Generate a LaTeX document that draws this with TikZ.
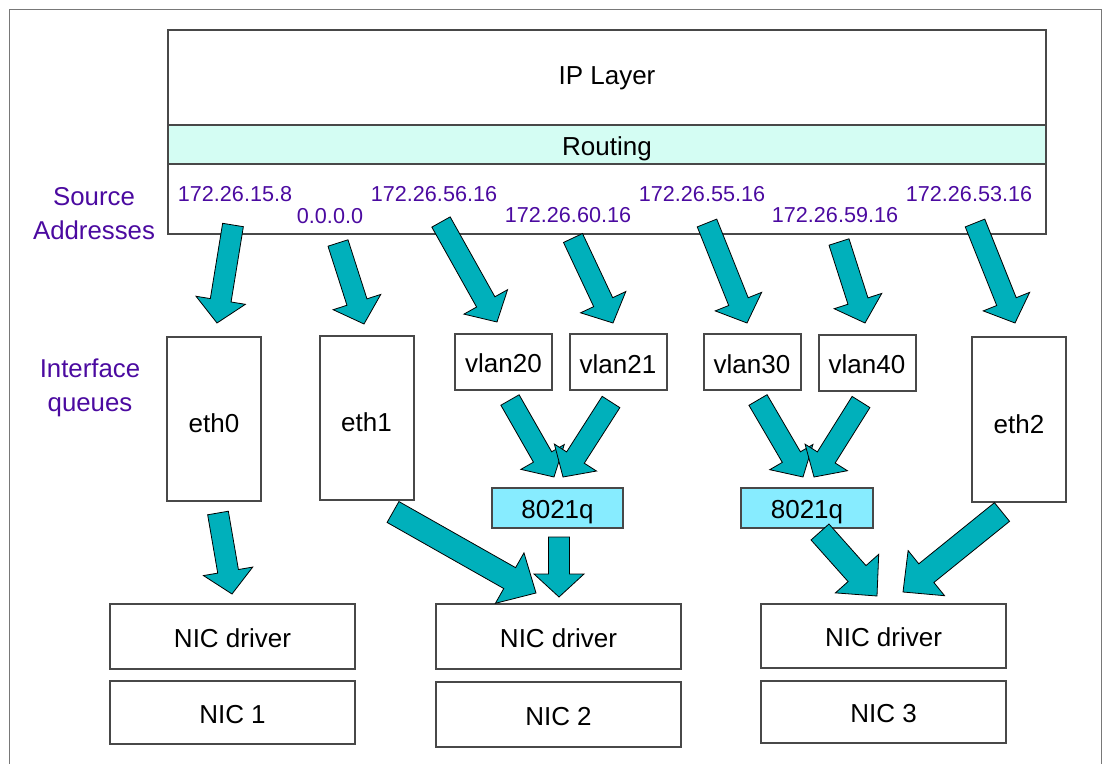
\documentclass[tikz,border=0pt]{standalone}
\usepackage{fontspec}
\setmainfont{Liberation Sans}
\usetikzlibrary{calc}
\definecolor{arrowteal}{RGB}{0,176,187}
\definecolor{routingfill}{RGB}{212,253,243}
\definecolor{qfill}{RGB}{135,236,255}
\definecolor{labelpurple}{RGB}{75,10,160}
\definecolor{boxline}{RGB}{72,72,72}
\definecolor{framegray}{RGB}{120,120,120}
\tikzset{
  fatarrow/.style n args={3}{draw=black, line width=0.4pt, fill=arrowteal,
    to path={let \p1=($(\tikztotarget)-(\tikztostart)$),
      \n1={atan2(\y1,\x1)}, \n2={veclen(\x1,\y1)-#3} in
      ($(\tikztostart)+(\n1+90:#1)$)
      -- ($(\tikztostart)+(\n1:\n2)+(\n1+90:#1)$)
      -- ($(\tikztostart)+(\n1:\n2)+(\n1+90:#2)$)
      -- (\tikztotarget)
      -- ($(\tikztostart)+(\n1:\n2)+(\n1-90:#2)$)
      -- ($(\tikztostart)+(\n1:\n2)+(\n1-90:#1)$)
      -- ($(\tikztostart)+(\n1-90:#1)$) -- cycle}},
  fat/.style={fatarrow={5.25pt}{12.5pt}{11.5pt}},
  fatbig/.style={fatarrow={6pt}{14.5pt}{15pt}}
}
\begin{document}
\begin{tikzpicture}[x=0.5pt,y=-0.5pt]
        \tikzstyle{box}=[draw=boxline,line width=1pt,inner sep=0pt,text height=10.8pt,text depth=0pt,font=\fontsize{13}{15}\selectfont]
        \tikzstyle{ethbox}=[box,text height=13.9pt,minimum width=47pt]
        \tikzstyle{addr}=[text=labelpurple,inner sep=0pt,font=\fontsize{10.8}{13}\selectfont]
        \tikzstyle{side}=[text=labelpurple,inner sep=0pt,align=center,font=\fontsize{12.9}{17}\selectfont]
        \useasboundingbox (0,0) rectangle (1103,764);
        \draw[framegray,line width=0.5pt] (9,780) -- (9,10) -- (1101,10) -- (1101,780);
       % IP layer block
         \node [box,text height=6.8pt,minimum width=439pt,minimum height=47.5pt] (ip) at (607,77.5) {IP Layer};
         \node [box,fill=routingfill,minimum width=439pt,minimum height=19.5pt] (routing) at (607,144.5) {Routing};
         \node [box,minimum width=439pt,minimum height=35pt] (srcband) at (607,199) {};
         \node [side] (srclabel) at (94,214) {Source\\Addresses};
         \node [side] (iflabel) at (90,388) {Interface\\queues};
         \node [addr] (ad1) at (235,194) {172.26.15.8};
         \node [addr] (ad2) at (330,216) {0.0.0.0};
         \node [addr] (ad3) at (434,194) {172.26.56.16};
         \node [addr] (ad4) at (568,215) {172.26.60.16};
         \node [addr] (ad5) at (702,194) {172.26.55.16};
         \node [addr] (ad6) at (835,215) {172.26.59.16};
         \node [addr] (ad7) at (969,194) {172.26.53.16};
       % interface queues
         \node [ethbox,minimum height=82pt] (eth0) at (214,419) {eth0};
         \node [ethbox,minimum height=82pt] (eth1) at (366.5,418) {eth1};
         \node [ethbox,minimum height=82.5pt] (eth2) at (1019,419.5) {eth2};
         \node [box,minimum width=48.5pt,minimum height=28pt] (vlan20) at (503.5,362) {vlan20};
         \node [box,minimum width=48.5pt,minimum height=28pt] (vlan21) at (618,362.5) {vlan21};
         \node [box,minimum width=48.5pt,minimum height=28pt] (vlan30) at (752,362.5) {vlan30};
         \node [box,minimum width=48.5pt,minimum height=28pt] (vlan40) at (867,363) {vlan40};
         \node [box,fill=qfill,minimum width=65.5pt,minimum height=20pt] (qa) at (557.5,508) {8021q};
         \node [box,fill=qfill,minimum width=66pt,minimum height=20pt] (qb) at (807,508) {8021q};
       % drivers and cards
         \node [box,minimum width=122.5pt,minimum height=32.5pt] (drv1) at (232.5,636.5) {NIC driver};
         \node [box,minimum width=122.5pt,minimum height=32.5pt] (drv2) at (558.5,636.5) {NIC driver};
         \node [box,minimum width=122.5pt,minimum height=32pt] (drv3) at (883.5,636) {NIC driver};
         \node [box,minimum width=122.5pt,minimum height=31.5pt] (nic1) at (232.5,712.5) {NIC 1};
         \node [box,minimum width=122.5pt,minimum height=32.5pt] (nic2) at (558.5,714.5) {NIC 2};
         \node [box,minimum width=122.5pt,minimum height=31pt] (nic3) at (883.5,712) {NIC 3};
       % arrow ends
         \coordinate (s1) at (233,225);  \coordinate (i1) at (217,323);
         \coordinate (s2) at (338,243);  \coordinate (i2) at (364,324);
         \coordinate (s3) at (441,222);  \coordinate (i3) at (497,322);
         \coordinate (s4) at (573,238);  \coordinate (i4) at (613,323);
         \coordinate (s5) at (707,223);  \coordinate (i5) at (747,323);
         \coordinate (s6) at (839,242);  \coordinate (i6) at (865,323);
         \coordinate (s7) at (975,223);  \coordinate (i7) at (1015,323);
         \coordinate (v1) at (510,400);  \coordinate (q1) at (554,477);
         \coordinate (v2) at (611,402);  \coordinate (q2) at (563,477);
         \coordinate (v3) at (758,400);  \coordinate (q3) at (803,477);
         \coordinate (v4) at (861,402);  \coordinate (q4) at (814,477);
         \coordinate (e1) at (218,513);  \coordinate (n1) at (232,594);
         \coordinate (e2) at (393,512);  \coordinate (n2) at (536,593);
         \coordinate (e3) at (559,537);  \coordinate (n3) at (559,597);
         \coordinate (e4) at (820,532);  \coordinate (n4) at (877,596);
         \coordinate (e5) at (1002,512); \coordinate (n5) at (903,592);
       % arrows
         \draw[fat] (s1) to (i1);
         \draw[fat] (s2) to (i2);
         \draw[fat] (s3) to (i3);
         \draw[fat] (s4) to (i4);
         \draw[fat] (s5) to (i5);
         \draw[fat] (s6) to (i6);
         \draw[fat] (s7) to (i7);
         \draw[fat] (v1) to (q1);
         \draw[fat] (v2) to (q2);
         \draw[fat] (v3) to (q3);
         \draw[fat] (v4) to (q4);
         \draw[fat] (e1) to (n1);
         \draw[fatbig] (e2) to (n2);
         \draw[fat] (e3) to (n3);
         \draw[fatbig] (e4) to (n4);
         \draw[fatbig] (e5) to (n5);
      \end{tikzpicture}
\end{document}
